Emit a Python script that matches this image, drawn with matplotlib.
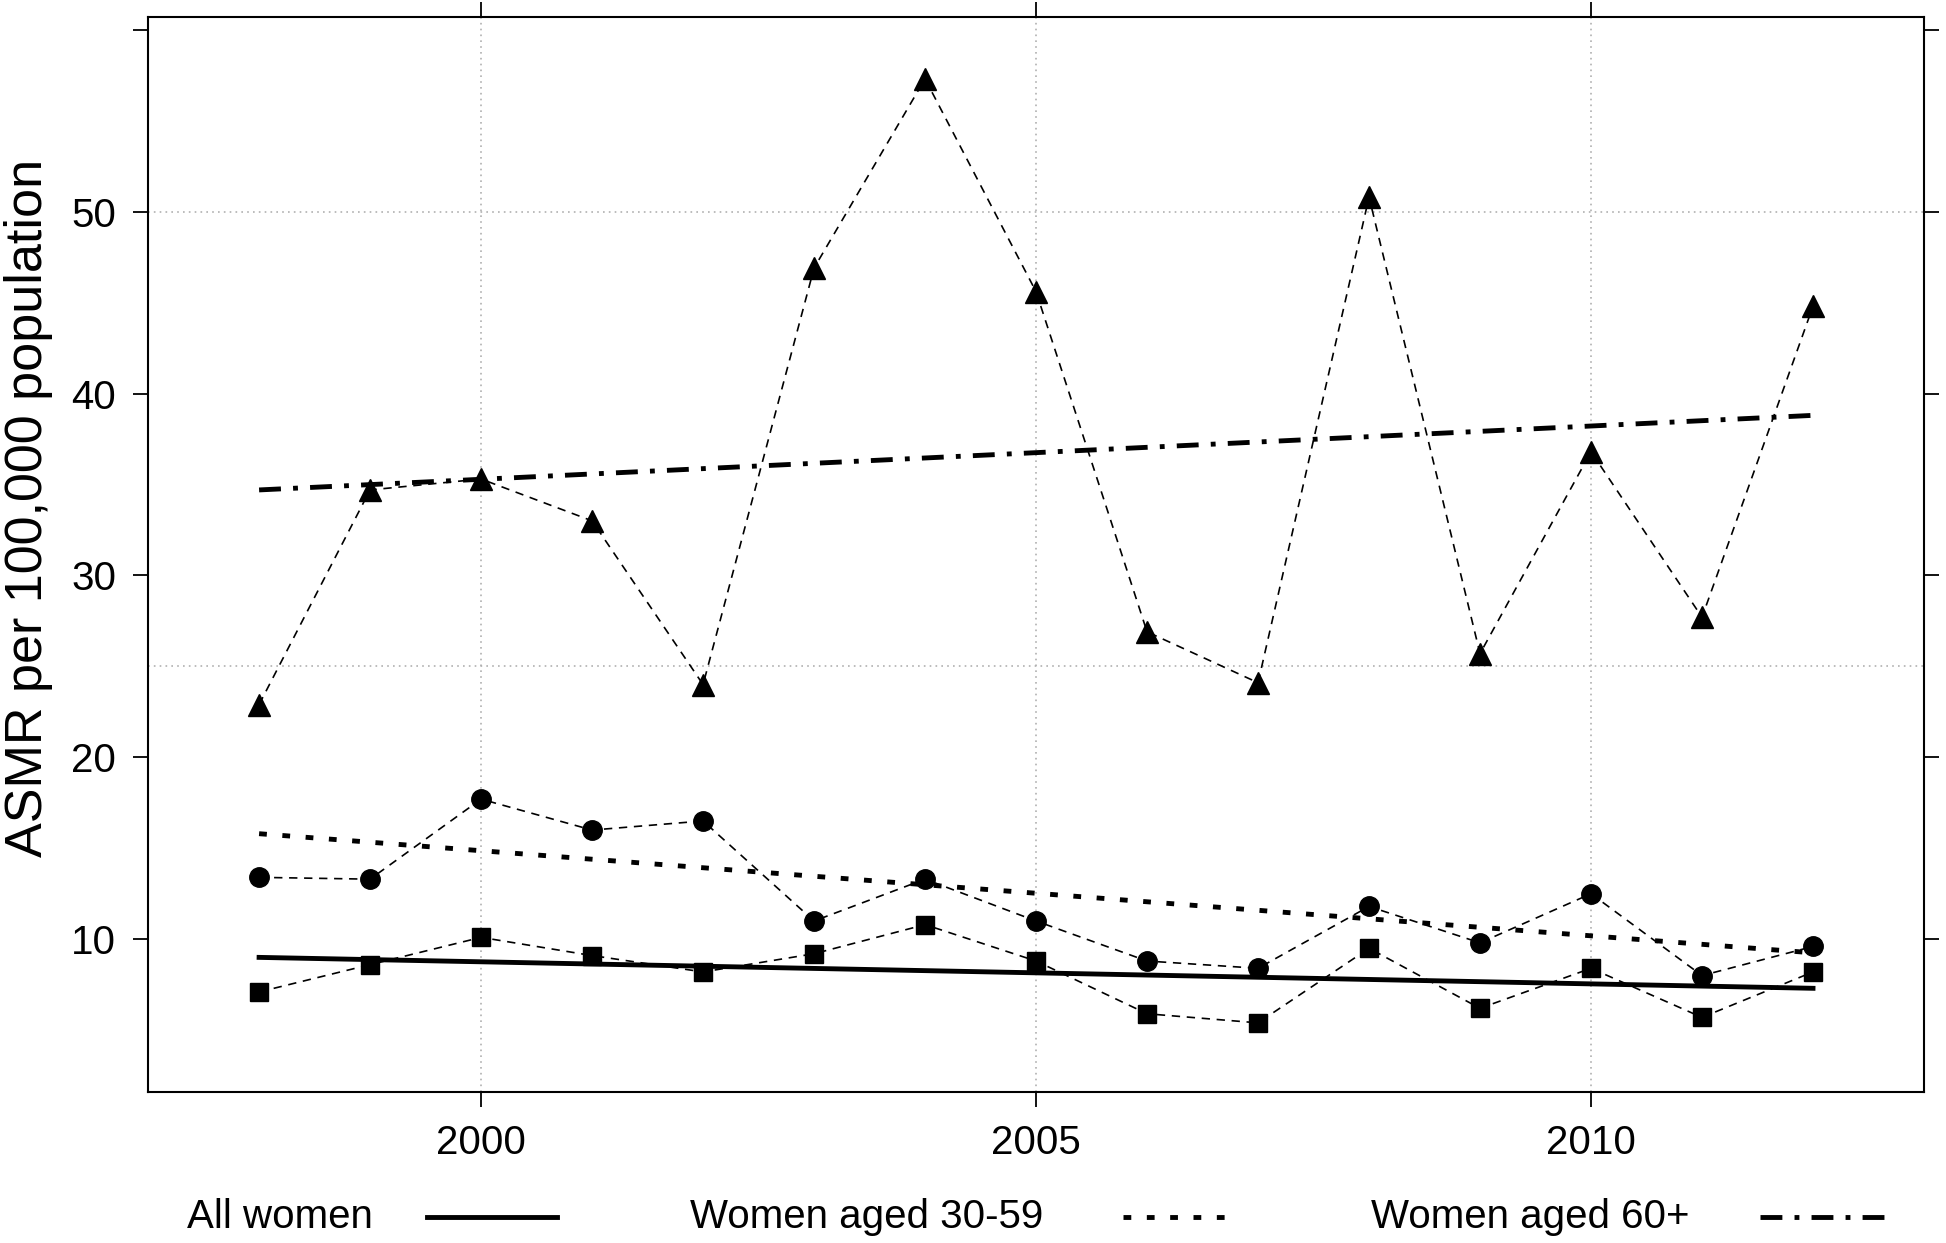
import numpy as np
import matplotlib.pyplot as plt
from matplotlib.lines import Line2D

plt.rcParams['font.family'] = ['Liberation Sans', 'DejaVu Sans']

# Yearly age-standardised mortality rates
years = np.arange(1998, 2013)
all_women = [7.1, 8.6, 10.1, 9.1, 8.2, 9.2, 10.8, 8.8, 5.9, 5.4, 9.5, 6.2, 8.4, 5.7, 8.2]
aged_30_59 = [13.4, 13.3, 17.7, 16.0, 16.5, 11.0, 13.3, 11.0, 8.8, 8.4, 11.8, 9.8, 12.5, 8.0, 9.6]
aged_60_plus = [22.9, 34.7, 35.3, 33.0, 24.0, 46.9, 57.3, 45.6, 26.9, 24.1, 50.8, 25.7, 36.8, 27.7, 44.8]

# Fitted linear trends (end points 1998 and 2012)
trend_years = [1998, 2012]
trend_all = [9.0, 7.3]
trend_30_59 = [15.8, 9.25]
trend_60_plus = [34.7, 38.8]

labels = ['All women', 'Women aged 30-59', 'Women aged 60+']
xticks = [2000, 2005, 2010]
yticks = [10, 20, 30, 40, 50, 60]
ytick_labels = ['10', '20', '30', '40', '50', '']

fig = plt.figure(figsize=(19.46, 12.43), dpi=100)
ax = fig.add_axes([0.0761, 0.1215, 0.9126, 0.8648])

# grid
for gx in xticks:
    ax.axvline(gx, color='#b0b0b0', lw=1.2, ls=(0, (1, 2.5)), zorder=0)
for gy in [25, 50]:
    ax.axhline(gy, color='#b0b0b0', lw=1.2, ls=(0, (1, 2.5)), zorder=0)

data_ls = (0, (5, 4))
ax.plot(years, all_women, color='black', lw=1.2, ls=data_ls, marker='s', ms=13)
ax.plot(years, aged_30_59, color='black', lw=1.2, ls=data_ls, marker='o', ms=14)
ax.plot(years, aged_60_plus, color='black', lw=1.2, ls=data_ls, marker='^', ms=16)

styles = [dict(ls='-'), dict(ls=(0, (1.6, 3.2))), dict(ls=(0, (4.5, 2.5, 1, 2.5)))]
ax.plot(trend_years, trend_all, color='black', lw=3.5, **styles[0])
ax.plot(trend_years, trend_30_59, color='black', lw=3.5, **styles[1])
ax.plot(trend_years, trend_60_plus, color='black', lw=3.5, **styles[2])

ax.set_xlim(1997.0, 2013.0)
ax.set_ylim(1.6, 60.7)
ax.set_xticks(xticks)
ax.set_yticks(yticks)
ax.set_yticklabels(ytick_labels)
ax.tick_params(direction='out', length=11, width=1.3, labelsize=29, pad=12,
               top=True, right=True, labeltop=False, labelright=False)
for s in ax.spines.values():
    s.set_linewidth(1.5)

fig.text(0.0144, 0.591, 'ASMR per 100,000 population', rotation=90,
         ha='center', va='center', fontsize=37.5)

# legend row under the plot
text_x = [187 / 1946, 690 / 1946, 1371 / 1946]
line_x = [(427 / 1946, 557 / 1946), (1123 / 1946, 1229 / 1946), (1760 / 1946, 1884 / 1946)]
ly = 0.021
for lab, tx, (x0, x1), st in zip(labels, text_x, line_x, styles):
    fig.text(tx, ly, lab, ha='left', va='center', fontsize=29)
    fig.add_artist(Line2D([x0, x1], [ly, ly], transform=fig.transFigure,
                          color='black', lw=3.5, **st))

fig.savefig('out.png', dpi=100)
